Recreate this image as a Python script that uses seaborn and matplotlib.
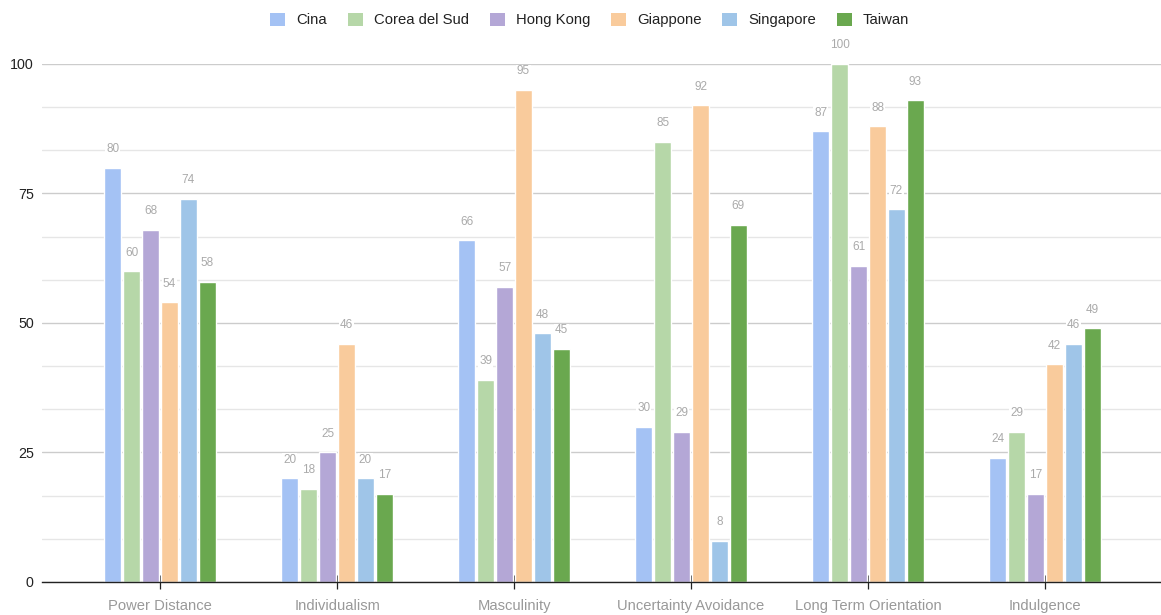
import matplotlib
matplotlib.use("Agg")
import matplotlib.pyplot as plt
import seaborn as sns
import pandas as pd
from matplotlib.ticker import MultipleLocator, FixedLocator
from matplotlib.patches import Patch

dimensions = ["Power Distance", "Individualism", "Masculinity",
              "Uncertainty Avoidance", "Long Term Orientation", "Indulgence"]
countries = ["Cina", "Corea del Sud", "Hong Kong", "Giappone", "Singapore", "Taiwan"]

cina = [80, 20, 66, 30, 87, 24]
corea = [60, 18, 39, 85, 100, 29]
hong_kong = [68, 25, 57, 29, 61, 17]
giappone = [54, 46, 95, 92, 88, 42]
singapore = [74, 20, 48, 8, 72, 46]
taiwan = [58, 17, 45, 69, 93, 49]

palette = ["#a4c2f4", "#b6d7a8", "#b4a7d6", "#f9cb9c", "#9fc5e8", "#6aa84f"]

series = [cina, corea, hong_kong, giappone, singapore, taiwan]
rows = []
for country, vals in zip(countries, series):
    for dim, v in zip(dimensions, vals):
        rows.append({"Dimensione": dim, "Paese": country, "Valore": v})
df = pd.DataFrame(rows)

sns.set_theme(style="white")
plt.rcParams["font.family"] = ["Liberation Sans", "DejaVu Sans"]

fig = plt.figure(figsize=(11.61, 6.15), dpi=100)
ax = fig.add_axes([0.0362, 0.0537, 0.9638, 0.8423])

sns.barplot(data=df, x="Dimensione", y="Valore", hue="Paese",
            order=dimensions, hue_order=countries, palette=palette,
            width=0.64, gap=0.1, saturation=1, errorbar=None, legend=False, ax=ax)

for container in ax.containers:
    ax.bar_label(container, padding=9, fontsize=8.5, color="#aaaaaa",
                 bbox=dict(facecolor="white", edgecolor="none", pad=0.6),
                 clip_on=False, zorder=5)

ax.set_ylim(0, 100)
ax.set_xlim(-0.667, 5.655)
ax.yaxis.set_major_locator(FixedLocator([0, 25, 50, 75, 100]))
ax.yaxis.set_minor_locator(MultipleLocator(25 / 3))
ax.grid(axis="y", which="major", color="#cccccc", linewidth=1.0)
ax.grid(axis="y", which="minor", color="#e6e6e6", linewidth=1.0)
ax.set_axisbelow(True)

for s in ["top", "right", "left"]:
    ax.spines[s].set_visible(False)
ax.spines["bottom"].set_color("#222222")
ax.spines["bottom"].set_linewidth(1.0)
ax.spines["bottom"].set_zorder(6)

ax.tick_params(axis="y", which="both", length=0, labelsize=10.3, labelcolor="#222222", pad=6)
ax.tick_params(axis="x", direction="inout", length=10, width=0.9, color="#222222",
               labelsize=10.6, labelcolor="#999999", pad=7, bottom=True)
ax.set_xlabel("")
ax.set_ylabel("")

handles = [Patch(facecolor=c, edgecolor="none") for c in palette]
fig.legend(handles, countries, loc="center", bbox_to_anchor=(0.508, 0.9675), ncol=6,
           frameon=False, fontsize=10.7, labelcolor="#222222",
           handlelength=1.0, handleheight=1.0,
           handletextpad=0.75, columnspacing=1.4)

fig.savefig("out.png", dpi=100)
